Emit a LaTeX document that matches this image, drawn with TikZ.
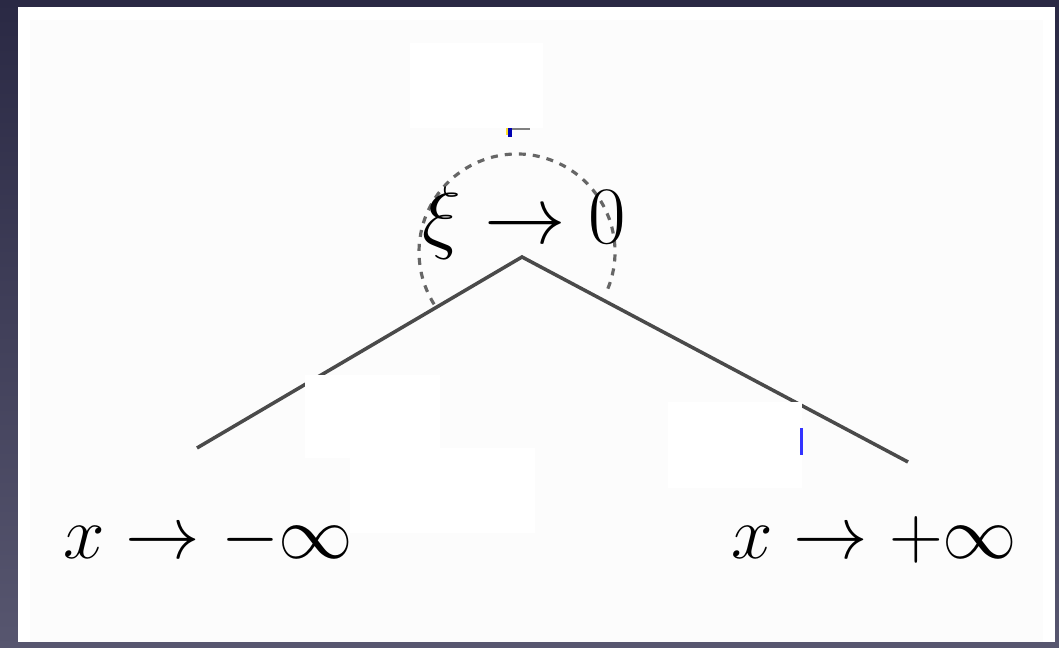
\RequirePackage{fix-cm}
\documentclass[tikz,border=0pt]{standalone}
\usepackage[dvipsnames]{xcolor}
\usepackage{tikz}
\usepackage{amsmath,amssymb}

\definecolor{fondhaut}{HTML}{2A2944}
\definecolor{fondbas}{HTML}{57566F}
\definecolor{papier}{HTML}{FCFCFC}
\definecolor{trait}{HTML}{4A4A4A}

\begin{document}
\begin{tikzpicture}

        %% ── Fond et page ──────────────────────────────────────────────────
        \useasboundingbox (0,0) rectangle (10.59,6.48);
        \shade[top color=fondhaut, bottom color=fondbas]
            (0,0) rectangle (10.59,6.48);
        \fill[white] (0.18,0.06) rectangle (10.55,6.41);
        \fill[papier] (0.30,0.06) rectangle (10.43,6.28);

        %% ── Branches ──────────────────────────────────────────────────────
        \coordinate (gauche) at (1.97,2.00);
        \coordinate (sommet) at (5.22,3.91);
        \coordinate (droite) at (9.08,1.86);
        \coordinate (centre) at (5.17,3.96);
        \draw[line width=1pt, trait] (gauche) -- (sommet) -- (droite);

        %% ── Arc pointillé autour du sommet ────────────────────────────────
        \draw[line width=0.9pt, black!60, dash pattern=on 2pt off 2pt]
            (centre) ++(-22:0.98cm)
            arc[start angle=-22, end angle=213, radius=0.98cm];

        %% ── Cadres blancs ─────────────────────────────────────────────────
        \fill[white] (4.10,6.05) rectangle (5.43,5.20);
        \fill[white] (3.05,2.73) rectangle (4.40,1.90);
        \fill[white] (3.50,2.00) rectangle (5.35,1.15);
        \fill[white] (6.68,2.46) rectangle (8.02,1.60);
        \fill[blue!70!black] (5.08,5.20) rectangle (5.12,5.11);
        \fill[Goldenrod] (5.06,5.20) rectangle (5.08,5.13);
        \draw[gray, line width=0.6pt] (5.12,5.19) -- (5.30,5.19);
        \fill[blue!80] (8.00,2.20) rectangle (8.03,1.93);

        %% ── Étiquettes ────────────────────────────────────────────────────
        \node[anchor=base west, inner sep=0pt,
              font=\fontsize{23.2}{28}\selectfont] (xi) at (4.22,4.04)
            {$\xi \to 0$};
        \node[anchor=base west, inner sep=0pt,
              font=\fontsize{21.2}{25}\selectfont] (moins) at (0.63,0.89)
            {$x \to -\infty$};
        \node[anchor=base west, inner sep=0pt,
              font=\fontsize{21.2}{25}\selectfont] (plus) at (7.31,0.89)
            {$x \to +\infty$};

    \end{tikzpicture}
\end{document}
